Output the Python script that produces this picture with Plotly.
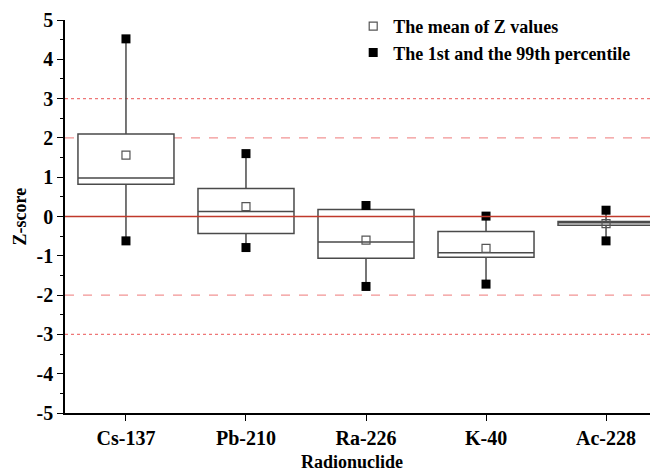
import plotly.graph_objects as go

categories = ["Cs-137", "Pb-210", "Ra-226", "K-40", "Ac-228"]
q1 = [0.82, -0.43, -1.06, -1.04, -0.22]
median = [0.98, 0.13, -0.65, -0.92, -0.16]
q3 = [2.10, 0.71, 0.18, -0.38, -0.13]
mean_z = [1.56, 0.25, -0.60, -0.81, -0.18]
p1 = [-0.62, -0.79, -1.78, -1.72, -0.62]
p99 = [4.52, 1.60, 0.28, 0.01, 0.16]
y_ticks = [-5, -4, -3, -2, -1, 0, 1, 2, 3, 4, 5]
y_ticktext = ["-5", "-4", "-3", "-2", "-1", "0", "1", "2", "3", "4", "5"]

FONT = "Liberation Serif"
# page body adds an 8px offset, so the figure is 8px smaller than the window
OFF = 8
W, H = 658 - OFF, 472 - OFF
ML, MR, MT, MB = 65 - OFF, 0, 20 - OFF, 472 - 413
PH = H - MT - MB
PW = W - ML - MR

fig = go.Figure()

fig.add_trace(go.Box(
    x=categories, q1=q1, median=median, q3=q3,
    lowerfence=p1, upperfence=p99,
    width=0.8, whiskerwidth=0,
    line=dict(color="#4a4a4a", width=1.5),
    fillcolor="white", boxpoints=False,
    showlegend=False, hoverinfo="skip",
))

fig.add_trace(go.Scatter(
    x=categories, y=mean_z, mode="markers",
    name="The mean of Z values",
    marker=dict(symbol="square-open", size=8, color="#555555", line=dict(width=1.2)),
))

fig.add_trace(go.Scatter(
    x=categories + categories, y=p1 + p99, mode="markers",
    name="The 1st and the 99th percentile",
    marker=dict(symbol="square", size=9, color="black"),
    error_x=dict(type="constant", value=0.08, width=0, thickness=1, color="black"),
))

ref = [
    (0, "solid", "#c0392b", 1.5, "above"),
    (2, "dash", "#f29494", 1.3, "below"),
    (-2, "dash", "#f29494", 1.3, "below"),
    (3, "dot", "#ee7777", 1.3, "below"),
    (-3, "dot", "#ee7777", 1.3, "below"),
]
for yv, dash, col, w, layer in ref:
    fig.add_shape(type="line", xref="paper", x0=0, x1=1, yref="y", y0=yv, y1=yv,
                  line=dict(color=col, width=w, dash=dash), layer=layer)

fig.add_annotation(text="Radionuclide", xref="paper", yref="paper",
                   x=(352 - 65) / PW, y=-(462 - 413) / PH,
                   xanchor="center", yanchor="middle", showarrow=False,
                   font=dict(size=18, family=FONT, weight="bold"))
fig.add_annotation(text="Z-score", xref="paper", yref="paper",
                   x=(19 - 65) / PW, y=0.5, textangle=-90,
                   xanchor="center", yanchor="middle", showarrow=False,
                   font=dict(size=18, family=FONT, weight="bold"))

fig.update_layout(
    width=W, height=H,
    margin=dict(l=ML, r=MR, t=MT, b=MB, autoexpand=False),
    plot_bgcolor="white", paper_bgcolor="white",
    font=dict(family=FONT, color="black", size=18, weight="bold"),
    legend=dict(x=0.486, y=1 + 12 / PH, xanchor="left", yanchor="top",
                bgcolor="rgba(0,0,0,0)", font=dict(size=18, family=FONT, weight="bold"),
                tracegroupgap=0),
    xaxis=dict(
        type="category", categoryorder="array", categoryarray=categories,
        range=[-0.508, 4.433], automargin=False,
        showline=True, linecolor="black", linewidth=1.5,
        ticks="outside", ticklen=6, tickwidth=1.2, tickcolor="black",
        showgrid=False, zeroline=False,
        tickfont=dict(size=20, family=FONT, weight="bold"),
    ),
    yaxis=dict(
        range=[-5, 5], tickvals=y_ticks, ticktext=y_ticktext, automargin=False,
        showline=True, linecolor="black", linewidth=1.5,
        ticks="outside", ticklen=6, tickwidth=1.2, tickcolor="black",
        minor=dict(dtick=0.5, tick0=0, ticks="outside", ticklen=3, tickcolor="black", tickwidth=1),
        showgrid=False, zeroline=False,
        tickfont=dict(size=20, family=FONT, weight="bold"),
    ),
)

fig.write_html("out.html")
